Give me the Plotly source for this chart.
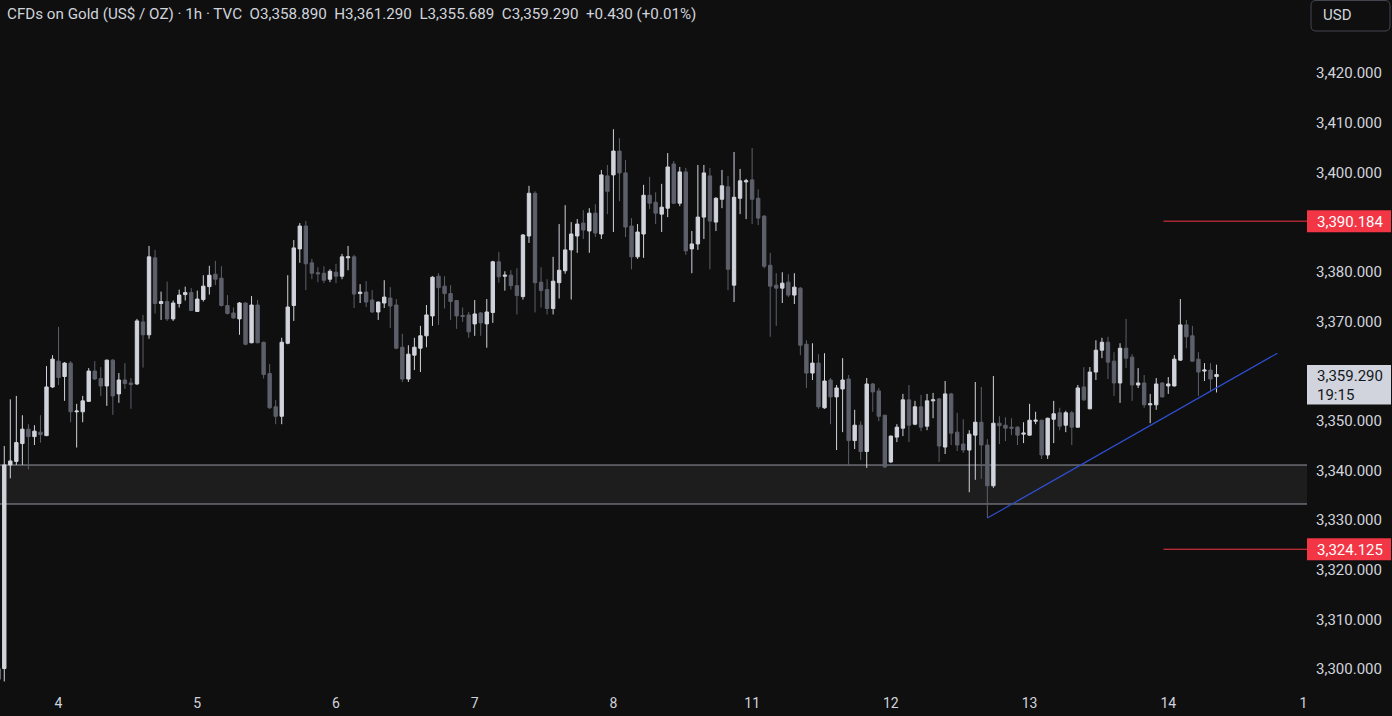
import plotly.graph_objects as go

# ---------------- data (hourly candles, XAUUSD) ----------------
opens = [3297.9, 3300.1, 3341.1, 3341.8, 3345.4, 3348.3, 3346.8, 3347.7, 3347.0, 3356.8,
         3362.0, 3358.9, 3361.6, 3351.8, 3351.8, 3353.9, 3360.0, 3358.5, 3357.0, 3362.2,
         3355.4, 3358.2, 3357.6, 3357.4, 3369.9, 3367.3, 3382.8, 3373.6, 3374.0, 3370.5,
         3373.6, 3375.4, 3375.8, 3372.0, 3374.4, 3377.0, 3379.5, 3378.7, 3373.2, 3371.7,
         3370.5, 3373.7, 3365.7, 3373.3, 3365.8, 3359.5, 3352.8, 3350.9, 3365.6, 3373.2,
         3384.6, 3389.2, 3381.8, 3379.8, 3379.7, 3378.5, 3379.9, 3379.1, 3382.8, 3383.0,
         3375.6, 3375.9, 3374.3, 3371.9, 3373.7, 3374.7, 3373.3, 3364.8, 3358.4, 3363.2,
         3364.6, 3367.1, 3371.1, 3379.1, 3377.1, 3375.6, 3374.2, 3371.2, 3371.3, 3369.5,
         3371.7, 3369.5, 3371.8, 3382.0, 3379.1, 3379.3, 3377.2, 3375.0, 3387.2, 3395.8,
         3377.9, 3376.4, 3372.6, 3377.8, 3380.2, 3384.4, 3387.2, 3389.8, 3388.2, 3391.8,
         3387.6, 3399.3, 3399.5, 3404.3, 3399.9, 3389.2, 3383.0, 3387.6, 3395.4, 3394.0,
         3391.6, 3392.8, 3401.7, 3393.8, 3400.1, 3384.6, 3385.6, 3391.0, 3399.3, 3390.0,
         3394.6, 3397.1, 3377.3, 3394.8, 3398.1, 3398.5, 3394.8, 3391.2, 3381.3, 3377.3,
         3376.7, 3377.9, 3375.3, 3376.7, 3365.4, 3359.6, 3361.6, 3352.6, 3358.2, 3354.8,
         3356.4, 3358.4, 3346.0, 3349.1, 3343.8, 3357.4, 3356.0, 3351.1, 3341.7, 3346.7,
         3348.5, 3354.2, 3349.3, 3352.8, 3348.9, 3354.0, 3354.4, 3344.7, 3355.4, 3347.7,
         3345.3, 3344.1, 3347.1, 3349.7, 3345.1, 3336.9, 3349.5, 3349.1, 3348.7, 3348.7,
         3347.3, 3347.1, 3349.9, 3350.1, 3343.1, 3350.3, 3351.6, 3349.1, 3351.6, 3348.7,
         3356.8, 3352.4, 3359.8, 3364.2, 3365.8, 3362.0, 3357.6, 3364.6, 3362.8, 3357.2,
         3357.6, 3353.2, 3353.2, 3357.6, 3357.0, 3357.0, 3362.2, 3369.3, 3367.1, 3362.4,
         3360.0, 3360.2, 3358.89]
highs = [3300.2, 3344.9, 3354.3, 3355.0, 3351.1, 3349.3, 3349.1, 3351.1, 3361.0, 3363.2,
         3368.9, 3361.8, 3362.0, 3353.4, 3355.0, 3360.6, 3362.0, 3360.8, 3362.3, 3362.4,
         3359.6, 3361.6, 3358.6, 3370.5, 3371.3, 3385.2, 3384.4, 3376.0, 3378.0, 3374.2,
         3376.4, 3377.0, 3376.7, 3376.2, 3379.3, 3381.2, 3382.2, 3381.1, 3375.3, 3372.8,
         3373.9, 3373.8, 3375.1, 3374.3, 3365.9, 3361.4, 3354.2, 3366.7, 3379.3, 3386.4,
         3389.8, 3390.2, 3382.6, 3380.9, 3381.1, 3380.5, 3381.6, 3383.6, 3385.2, 3383.4,
         3377.5, 3378.1, 3376.3, 3374.0, 3378.3, 3376.9, 3374.5, 3367.5, 3365.2, 3366.7,
         3369.1, 3373.3, 3379.1, 3379.7, 3379.1, 3377.3, 3374.3, 3372.8, 3371.9, 3374.3,
         3371.9, 3374.5, 3382.2, 3384.0, 3380.1, 3380.3, 3380.7, 3387.6, 3397.3, 3396.2,
         3380.9, 3378.5, 3383.0, 3389.6, 3393.4, 3390.0, 3390.6, 3392.4, 3392.8, 3393.6,
         3400.5, 3401.5, 3408.7, 3406.9, 3402.5, 3390.8, 3389.6, 3397.5, 3399.1, 3396.0,
         3397.7, 3403.9, 3402.3, 3401.1, 3400.9, 3388.2, 3401.5, 3401.5, 3400.9, 3395.0,
         3400.5, 3399.3, 3404.1, 3400.7, 3398.7, 3404.9, 3396.6, 3391.4, 3383.8, 3379.7,
         3379.9, 3379.5, 3379.7, 3376.9, 3366.2, 3365.6, 3363.4, 3363.6, 3358.6, 3357.2,
         3362.6, 3359.2, 3352.2, 3349.9, 3358.6, 3357.6, 3356.6, 3351.2, 3347.0, 3349.3,
         3355.4, 3357.2, 3354.0, 3355.2, 3355.4, 3355.6, 3354.6, 3358.0, 3355.6, 3351.6,
         3350.3, 3348.1, 3357.8, 3356.8, 3346.3, 3359.0, 3350.9, 3350.7, 3350.5, 3348.9,
         3349.7, 3353.4, 3351.8, 3350.2, 3350.6, 3354.0, 3352.6, 3352.0, 3352.0, 3357.2,
         3360.8, 3360.8, 3366.2, 3366.7, 3366.9, 3363.8, 3365.6, 3370.5, 3363.4, 3360.6,
         3359.2, 3355.4, 3358.6, 3357.7, 3358.8, 3363.2, 3374.5, 3370.3, 3369.1, 3363.8,
         3361.6, 3361.6, 3361.29]
lows = [3297.8, 3297.5, 3338.4, 3341.1, 3341.1, 3340.2, 3345.1, 3345.6, 3346.9, 3356.6,
        3357.2, 3354.0, 3349.7, 3344.6, 3349.7, 3353.8, 3358.2, 3355.0, 3353.0, 3351.2,
        3353.6, 3356.4, 3352.4, 3357.2, 3360.7, 3366.5, 3371.6, 3370.3, 3370.1, 3370.1,
        3372.8, 3374.2, 3372.1, 3371.9, 3374.0, 3375.4, 3377.3, 3373.0, 3371.4, 3370.5,
        3367.3, 3365.2, 3365.6, 3365.6, 3358.5, 3352.4, 3349.3, 3349.3, 3365.4, 3370.1,
        3381.8, 3376.3, 3378.5, 3377.9, 3377.7, 3377.9, 3377.7, 3378.5, 3380.3, 3372.7,
        3373.7, 3372.9, 3371.7, 3370.3, 3372.7, 3368.7, 3364.4, 3357.8, 3357.8, 3360.2,
        3359.8, 3364.8, 3369.1, 3369.3, 3372.6, 3370.3, 3368.5, 3369.9, 3366.7, 3367.1,
        3367.1, 3364.7, 3369.7, 3377.8, 3376.2, 3376.4, 3371.4, 3374.4, 3385.8, 3371.8,
        3372.8, 3371.4, 3371.4, 3374.6, 3379.6, 3374.4, 3383.8, 3386.6, 3383.8, 3387.0,
        3386.6, 3391.6, 3388.0, 3394.2, 3387.0, 3380.5, 3382.6, 3382.8, 3392.6, 3389.6,
        3388.0, 3391.0, 3393.6, 3393.2, 3383.4, 3379.7, 3384.4, 3386.6, 3380.5, 3388.2,
        3392.8, 3376.3, 3373.9, 3391.6, 3390.6, 3389.6, 3389.4, 3380.7, 3366.9, 3369.1,
        3373.7, 3374.9, 3373.5, 3363.2, 3356.6, 3358.2, 3352.4, 3352.4, 3349.3, 3344.1,
        3347.7, 3341.1, 3344.3, 3342.1, 3340.5, 3351.8, 3349.9, 3340.5, 3341.5, 3345.7,
        3346.9, 3345.7, 3349.1, 3347.9, 3348.1, 3350.5, 3341.7, 3343.3, 3345.1, 3343.9,
        3343.5, 3335.6, 3338.1, 3338.3, 3330.4, 3336.5, 3345.3, 3345.9, 3347.1, 3345.1,
        3345.5, 3347.0, 3349.3, 3342.3, 3342.3, 3345.5, 3348.1, 3347.7, 3345.1, 3348.6,
        3354.0, 3352.3, 3358.2, 3362.6, 3358.4, 3355.0, 3353.6, 3360.6, 3354.0, 3356.6,
        3352.6, 3349.5, 3352.2, 3354.7, 3355.4, 3356.9, 3362.1, 3364.6, 3361.9, 3355.0,
        3358.0, 3356.0, 3355.689]
closes = [3300.1, 3341.1, 3341.9, 3345.6, 3348.3, 3346.8, 3347.9, 3347.2, 3356.8, 3362.4,
          3358.7, 3361.6, 3351.8, 3351.95, 3354.0, 3360.0, 3358.4, 3357.0, 3362.2, 3355.0,
          3358.2, 3357.5, 3357.3, 3370.1, 3367.3, 3383.0, 3373.6, 3374.0, 3370.5, 3373.7,
          3375.3, 3375.8, 3372.2, 3374.5, 3377.1, 3379.3, 3378.5, 3373.2, 3371.6, 3370.7,
          3373.7, 3365.4, 3373.3, 3365.7, 3359.3, 3352.6, 3350.9, 3365.8, 3372.9, 3384.8,
          3389.2, 3381.6, 3379.7, 3379.6, 3378.3, 3380.1, 3379.1, 3383.0, 3383.0, 3375.5,
          3375.9, 3373.9, 3371.9, 3373.9, 3374.9, 3373.1, 3364.6, 3358.4, 3363.4, 3364.8,
          3367.1, 3371.3, 3378.9, 3376.8, 3375.6, 3374.0, 3371.1, 3371.0, 3367.9, 3371.5,
          3369.7, 3371.9, 3382.0, 3379.0, 3379.3, 3377.2, 3375.2, 3387.4, 3395.8, 3377.8,
          3376.2, 3372.6, 3378.1, 3380.3, 3384.4, 3387.6, 3389.6, 3388.4, 3391.8, 3387.8,
          3399.5, 3396.2, 3404.3, 3399.9, 3389.0, 3383.0, 3388.0, 3395.4, 3393.8, 3391.8,
          3393.0, 3401.1, 3393.8, 3400.1, 3384.2, 3385.6, 3391.0, 3399.9, 3390.2, 3394.8,
          3397.3, 3380.5, 3395.0, 3398.3, 3398.3, 3394.6, 3390.8, 3381.1, 3377.1, 3376.7,
          3377.7, 3375.3, 3376.9, 3365.2, 3359.6, 3361.6, 3352.8, 3358.0, 3354.8, 3356.6,
          3358.2, 3346.0, 3349.1, 3343.8, 3357.4, 3355.8, 3350.9, 3340.7, 3346.9, 3348.7,
          3354.2, 3349.1, 3352.8, 3348.7, 3354.0, 3354.2, 3344.9, 3355.4, 3347.5, 3345.1,
          3344.1, 3347.3, 3349.7, 3345.1, 3336.9, 3349.5, 3349.0, 3348.5, 3348.5, 3347.1,
          3347.5, 3350.1, 3350.1, 3343.1, 3350.5, 3351.4, 3348.9, 3351.6, 3348.7, 3356.6,
          3354.2, 3359.8, 3364.2, 3365.8, 3361.8, 3357.6, 3364.6, 3362.6, 3357.2, 3357.6,
          3353.2, 3353.4, 3357.4, 3354.8, 3357.4, 3362.4, 3369.3, 3366.9, 3362.0, 3359.8,
          3360.2, 3358.4, 3359.29]
bar_index = list(range(-1, len(opens) - 1))   # hourly bar number, 0 = first full bar

day_start_bars = [9, 32, 55, 78, 101, 124, 147, 170, 193, 215.4]
day_labels = ["4", "5", "6", "7", "8", "11", "12", "13", "14", "1"]

price_ticks = [3300, 3310, 3320, 3330, 3340, 3350, 3370, 3380, 3400, 3410, 3420]

zone_low, zone_high = 3333.23, 3341.08
red_levels = [3390.184, 3324.125]
red_level_start_bar = 192.2
trend_bars = [163, 211.1]
trend_prices = [3330.4, 3363.6]

title_text = "CFDs on Gold (US$ / OZ) · 1h · TVC"
change_abs, change_pct = 0.430, 0.01
countdown = "19:15"

# ---------------- styling ----------------
W, H = 1392, 716
MR, MB = 85, 28
PW, PH = W - MR, H - MB
BG = "#0f0f0f"
UP = "#d1d4dc"
DN = "#5d606b"
TXT = "#d1d4dc"
FONT = "Roboto"
x_range = [-0.71, 216.0]
y_range = [3296.18, 3434.72]
SP = "\u00a0\u00a0"


def px_x(p):
    return p / PW


def px_y(p):
    return 1 - p / PH


fig = go.Figure(go.Candlestick(
    x=bar_index, open=opens, high=highs, low=lows, close=closes,
    increasing=dict(line=dict(color=UP, width=1), fillcolor=UP),
    decreasing=dict(line=dict(color=DN, width=1), fillcolor=DN),
    whiskerwidth=0, hoverinfo="skip", showlegend=False,
))

shapes = []
# support zone
shapes.append(dict(type="rect", xref="paper", yref="y", x0=0, x1=1, y0=zone_low, y1=zone_high,
                   fillcolor="#1d1d1e", line=dict(width=0), layer="below"))
for lv in (zone_low, zone_high):
    shapes.append(dict(type="line", xref="paper", yref="y", x0=0, x1=1, y0=lv, y1=lv,
                       line=dict(color="#9598a1", width=1), layer="below"))
# red levels
for lv in red_levels:
    shapes.append(dict(type="line", xref="x", yref="y", x0=red_level_start_bar, x1=x_range[1],
                       y0=lv, y1=lv, line=dict(color="#f23645", width=1)))
    shapes.append(dict(type="rect", xref="paper", yref="y", ysizemode="pixel", yanchor=lv,
                       x0=px_x(PW), x1=px_x(1391), y0=-11, y1=11,
                       fillcolor="#f23645", line=dict(width=0)))
# trend line
shapes.append(dict(type="line", xref="x", yref="y", x0=trend_bars[0], x1=trend_bars[1],
                   y0=trend_prices[0], y1=trend_prices[1], line=dict(color="#2f4fd1", width=1.2)))
# last price box
last_close = closes[-1]
shapes.append(dict(type="rect", xref="paper", yref="y", ysizemode="pixel", yanchor=last_close,
                   x0=px_x(PW), x1=px_x(1391), y0=-30, y1=9.5,
                   fillcolor="#d1d4dc", line=dict(width=0)))


# USD box (rounded)
def rounded(x0, y0, x1, y1, r):
    X = lambda v: px_x(v)
    Y = lambda v: px_y(v)
    return (f"M {X(x0 + r)} {Y(y0)} L {X(x1 - r)} {Y(y0)} Q {X(x1)} {Y(y0)} {X(x1)} {Y(y0 + r)} "
            f"L {X(x1)} {Y(y1 - r)} Q {X(x1)} {Y(y1)} {X(x1 - r)} {Y(y1)} "
            f"L {X(x0 + r)} {Y(y1)} Q {X(x0)} {Y(y1)} {X(x0)} {Y(y1 - r)} "
            f"L {X(x0)} {Y(y0 + r)} Q {X(x0)} {Y(y0)} {X(x0 + r)} {Y(y0)} Z")


shapes.append(dict(type="path", xref="paper", yref="paper", path=rounded(1311, 0.5, 1390, 31, 5),
                   line=dict(color="#434651", width=1), fillcolor=BG))

annotations = []
header = (f"{title_text}{SP}O{opens[-1]:,.3f}{SP}H{highs[-1]:,.3f}{SP}L{lows[-1]:,.3f}{SP}"
          f"C{closes[-1]:,.3f}{SP}{change_abs:+.3f} ({change_pct:+.2f}%)")
annotations.append(dict(xref="paper", yref="paper", x=px_x(5), y=px_y(14), xanchor="left",
                        yanchor="middle", text=header, showarrow=False,
                        font=dict(family=FONT, size=15.2, color=TXT)))
annotations.append(dict(xref="paper", yref="paper", x=px_x(1321), y=px_y(15), xanchor="left",
                        yanchor="middle", text="USD", showarrow=False,
                        font=dict(family=FONT, size=15, color=TXT)))
for lv in red_levels:
    annotations.append(dict(xref="paper", yref="y", x=px_x(1315), y=lv, xanchor="left",
                            yanchor="middle", yshift=-1, text=f"{lv:,.3f}", showarrow=False,
                            font=dict(family=FONT, size=15, color="#ffffff")))
annotations.append(dict(xref="paper", yref="y", x=px_x(1315), y=last_close, xanchor="left",
                        yanchor="middle", yshift=-1, text=f"{last_close:,.3f}", showarrow=False,
                        font=dict(family=FONT, size=15, color="#131722")))
annotations.append(dict(xref="paper", yref="y", x=px_x(1315), y=last_close, xanchor="left",
                        yanchor="middle", yshift=-20, text=countdown, showarrow=False,
                        font=dict(family=FONT, size=15, color="#131722")))

fig.update_layout(
    width=W, height=H,
    margin=dict(l=0, r=MR, t=0, b=MB, pad=0),
    paper_bgcolor=BG, plot_bgcolor=BG,
    boxgap=0.2,
    shapes=shapes, annotations=annotations,
    xaxis=dict(range=x_range, tickmode="array", tickvals=day_start_bars, ticktext=day_labels,
               showgrid=False, zeroline=False, showline=False, ticks="",
               rangeslider=dict(visible=False), fixedrange=True,
               tickfont=dict(family=FONT, size=14, color=TXT), ticklabelstandoff=5),
    yaxis=dict(range=y_range, side="right", tickmode="array", tickvals=price_ticks,
               ticktext=[f"{v:,.3f}" for v in price_ticks],
               showgrid=False, zeroline=False, showline=False, ticks="", fixedrange=True,
               tickfont=dict(family=FONT, size=15, color=TXT), ticklabelstandoff=8),
    hovermode=False,
)

fig.write_html("out.html", config={"displayModeBar": False},
               post_script="document.body.style.margin='0';document.body.style.background='#0f0f0f';")
